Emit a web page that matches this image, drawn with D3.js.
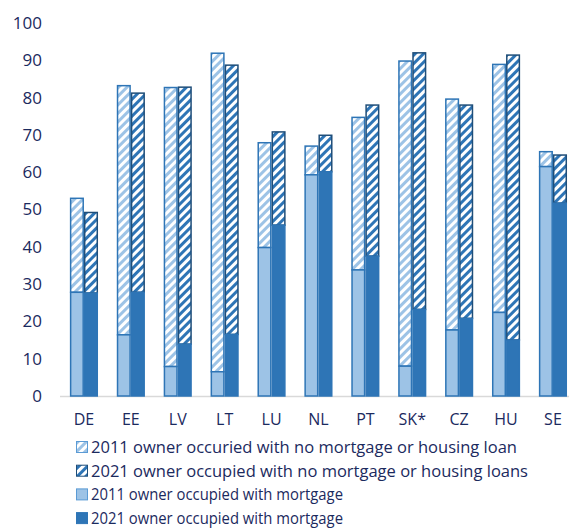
<!DOCTYPE html>
<html><head><meta charset="utf-8">
<script src="https://cdn.jsdelivr.net/npm/d3@7"></script>
<style>body{margin:0;background:#fff}svg{display:block}</style>
</head><body>
<script>
const categories = ["DE","EE","LV","LT","LU","NL","PT","SK*","CZ","HU","SE"];
const mortgage2011   = [27.8,16.4, 7.9, 6.5,39.8,59.3,33.8, 8.0,17.7,22.4,61.5];
const noMortgage2011 = [25.2,66.8,74.8,85.4,28.1, 7.7,40.9,81.8,61.9,66.5, 4.0];
const mortgage2021   = [27.6,27.8,13.9,16.5,45.8,60.1,37.5,23.2,20.8,15.0,51.7];
const noMortgage2021 = [21.6,53.4,68.9,72.2,25.0, 9.8,40.5,68.8,57.2,76.4,12.9];
const yTicks = [0,10,20,30,40,50,60,70,80,90,100];
const legendLabels = [
  "2011 owner occuried with no mortgage or housing loan",
  "2021 owner occupied with no mortgage or housing loans",
  "2011 owner occupied with mortgage",
  "2021 owner occupied with mortgage"
];

const W=569,H=528;
const svg=d3.select("body").append("svg").attr("width",W).attr("height",H);
const defs=svg.append("defs");
function pattern(id,bg,fg){
  const p=defs.append("pattern").attr("id",id).attr("patternUnits","userSpaceOnUse")
    .attr("width",6).attr("height",6).attr("patternTransform","rotate(45)");
  p.append("rect").attr("width",6).attr("height",6).attr("fill",bg);
  p.append("rect").attr("x",0).attr("width",3).attr("height",6).attr("fill",fg);
}
pattern("h11","#ffffff","#9dc3e6");
pattern("h21","#ffffff","#2e75b6");

const textColor="#1b2a5e";
const font="'Open Sans', sans-serif";
const y=d3.scaleLinear().domain([0,100]).range([396,23]);
const x=d3.scaleBand().domain(categories).range([60.5,576.4]).paddingInner(0.4).paddingOuter(0.2);
const sub=d3.scaleBand().domain(["2011","2021"]).range([0,x.bandwidth()]);

svg.append("line").attr("x1",60).attr("x2",W).attr("y1",y(0)+0.5).attr("y2",y(0)+0.5)
  .attr("stroke","#d9d9d9").attr("stroke-width",1.5);

const yAxis=d3.axisLeft(y).tickValues(yTicks).tickSize(0).tickPadding(0);
const gy=svg.append("g").attr("transform","translate(42,0)").call(yAxis);
gy.select(".domain").remove();
gy.selectAll("text").attr("fill",textColor).style("font-family",font).style("font-size","17px");

const xAxis=d3.axisBottom(x).tickSize(0).tickPadding(0);
const gx=svg.append("g").attr("transform","translate(0,414)").call(xAxis);
gx.select(".domain").remove();
gx.selectAll("text").attr("fill",textColor).style("font-family",font).style("font-size","16px");

const series=[
  {yr:"2011",m:mortgage2011,n:noMortgage2011,mFill:"#9dc3e6",hatch:"url(#h11)",stroke:"#2e75b6"},
  {yr:"2021",m:mortgage2021,n:noMortgage2021,mFill:"#2e75b6",hatch:"url(#h21)",stroke:"#1f4e79"}
];
series.forEach(s=>{
  const g=svg.append("g");
  const bw=sub.bandwidth();
  categories.forEach((c,i)=>{
    const x0=x(c)+sub(s.yr);
    const top=s.m[i]+s.n[i];
    g.append("rect").attr("x",x0+0.75).attr("width",bw-1.5)
      .attr("y",y(top)).attr("height",y(s.m[i])-y(top))
      .attr("fill",s.hatch).attr("stroke",s.stroke).attr("stroke-width",1.5);
    g.append("rect").attr("x",x0+0.75).attr("width",bw-1.5)
      .attr("y",y(s.m[i])).attr("height",y(0)-y(s.m[i]))
      .attr("fill",s.mFill).attr("stroke","#2e75b6").attr("stroke-width",1.5);
  });
});

const legFills=[
  {f:"url(#h11)",s:"#5b9bd5"},
  {f:"url(#h21)",s:"#1f4e79"},
  {f:"#9dc3e6",s:"#5b9bd5"},
  {f:"#2e75b6",s:"#2e75b6"}
];
const legW=[426,437,252,252];
legendLabels.forEach((t,i)=>{
  const cy=447+i*23.7;
  svg.append("rect").attr("x",76.5).attr("y",cy-5.5).attr("width",11).attr("height",11)
    .attr("fill",legFills[i].f).attr("stroke",legFills[i].s).attr("stroke-width",1);
  svg.append("text").attr("x",91).attr("y",cy).attr("dy","0.35em").text(t)
    .attr("fill",textColor).style("font-family",font).style("font-size","17px")
    .attr("textLength",legW[i]).attr("lengthAdjust","spacingAndGlyphs");
});
</script>
</body></html>
